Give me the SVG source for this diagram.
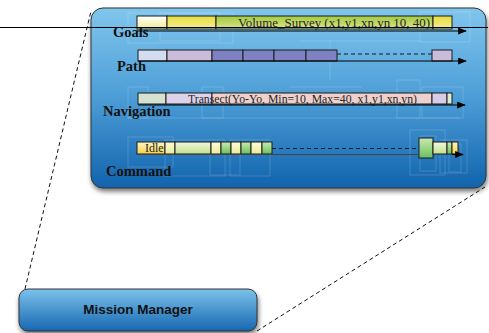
<svg xmlns="http://www.w3.org/2000/svg" width="489" height="333" viewBox="0 0 489 333">
  <defs>
    <linearGradient id="panelFill" x1="0" y1="0" x2="0" y2="1">
      <stop offset="0" stop-color="#80c6ee"/>
      <stop offset="0.5" stop-color="#4c9dd6"/>
      <stop offset="1" stop-color="#1163ad"/>
    </linearGradient>
    <linearGradient id="mmFill" x1="0" y1="0" x2="0" y2="1">
      <stop offset="0" stop-color="#7cc2ec"/>
      <stop offset="1" stop-color="#1667b0"/>
    </linearGradient>
    <linearGradient id="gWhiteYellow" x1="0" y1="0" x2="0" y2="1">
      <stop offset="0" stop-color="#ffffff"/>
      <stop offset="1" stop-color="#f0ec90"/>
    </linearGradient>
    <linearGradient id="gYellow" x1="0" y1="0" x2="0" y2="1">
      <stop offset="0" stop-color="#e6dc3c"/>
      <stop offset="1" stop-color="#f4ee98"/>
    </linearGradient>
    <linearGradient id="gVolume" x1="0" y1="0" x2="0" y2="1">
      <stop offset="0" stop-color="#a4ca3c"/>
      <stop offset="1" stop-color="#d8e48c"/>
    </linearGradient>
    <linearGradient id="gIdle" x1="0" y1="0" x2="0" y2="1">
      <stop offset="0" stop-color="#fff4c0"/>
      <stop offset="1" stop-color="#f6d24a"/>
    </linearGradient>
    <linearGradient id="gPale" x1="0" y1="0" x2="0" y2="1">
      <stop offset="0" stop-color="#fdfcd8"/>
      <stop offset="1" stop-color="#ecec98"/>
    </linearGradient>
    <linearGradient id="gLightGreen" x1="0" y1="0" x2="0" y2="1">
      <stop offset="0" stop-color="#f2f8dc"/>
      <stop offset="1" stop-color="#c4e090"/>
    </linearGradient>
    <linearGradient id="gGreen" x1="0" y1="0" x2="0" y2="1">
      <stop offset="0" stop-color="#c8eab0"/>
      <stop offset="1" stop-color="#6cc060"/>
    </linearGradient>
    <filter id="shadow" x="-5%" y="-5%" width="115%" height="125%">
      <feGaussianBlur in="SourceAlpha" stdDeviation="2.5"/>
      <feOffset dx="1" dy="3" result="b"/>
      <feComponentTransfer><feFuncA type="linear" slope="0.55"/></feComponentTransfer>
      <feMerge><feMergeNode/><feMergeNode in="SourceGraphic"/></feMerge>
    </filter>
    <marker id="arrow" viewBox="0 0 10 8" refX="9" refY="4" markerWidth="9" markerHeight="7" markerUnits="userSpaceOnUse" orient="auto">
      <path d="M0,0 L10,4 L0,8 Z" fill="#000"/>
    </marker>
  </defs>
  <style>
    .seg { stroke: #1a1a1a; stroke-width: 1; }
    .ghost { fill: none; stroke: #ffffff; stroke-opacity: 0.16; stroke-width: 1; }
    .label { font-family: "Liberation Serif", "Times New Roman", serif; font-weight: bold; font-size: 14.5px; fill: #111; }
    .bartext { font-family: "Liberation Serif", "Times New Roman", serif; font-size: 12px; fill: #262626; }
    .track { stroke: #000; stroke-width: 1.2; fill: none; marker-end: url(#arrow); }
    .dash { stroke: #1a1a1a; stroke-width: 1; stroke-dasharray: 4 3; fill: none; }
    .zoomline { stroke: #111; stroke-width: 1; stroke-dasharray: 4 3; fill: none; }
  </style>

  <!-- Mission timeline panel -->
  <g id="timeline-panel">
    <rect x="91" y="8" width="395" height="180" rx="12" fill="url(#panelFill)" stroke="#333" stroke-width="1" filter="url(#shadow)"/>
    <!-- faint layout guides -->
    <rect class="ghost" x="128" y="13" width="105" height="30"/>
    <rect class="ghost" x="160" y="13" width="60" height="28"/>
    <rect class="ghost" x="420" y="12" width="50" height="30"/>
    <line class="ghost" x1="300" y1="41" x2="420" y2="41"/>
    <line class="ghost" x1="330" y1="40" x2="330" y2="80"/>
    <rect class="ghost" x="128" y="87" width="20" height="31"/>
    <rect class="ghost" x="202" y="87" width="21" height="31"/>
    <line class="ghost" x1="128" y1="118" x2="460" y2="118"/>
    <line class="ghost" x1="290" y1="87" x2="362" y2="87"/>
    <rect class="ghost" x="397" y="80" width="23" height="38"/>
    <rect class="ghost" x="422" y="87" width="41" height="31"/>
    <rect class="ghost" x="128" y="137" width="45" height="30"/>
    <rect class="ghost" x="165" y="140" width="60" height="36"/>
    <rect class="ghost" x="210" y="145" width="30" height="30"/>
    <rect class="ghost" x="230" y="140" width="40" height="36"/>
    <rect class="ghost" x="410" y="130" width="35" height="45"/>
    <rect class="ghost" x="420" y="136" width="16" height="35"/>
    <rect class="ghost" x="440" y="140" width="27" height="33"/>
    <rect class="ghost" x="449" y="144" width="12" height="28"/>
  </g>

  <!-- Goals row -->
  <g id="goals">
    <rect class="seg" x="137" y="16" width="30" height="13" fill="url(#gWhiteYellow)"/>
    <rect class="seg" x="167" y="16" width="49" height="13" fill="url(#gYellow)"/>
    <rect class="seg" x="216" y="16" width="217" height="13" fill="url(#gVolume)"/>
    <rect class="seg" x="433" y="16" width="19" height="13" fill="url(#gYellow)"/>
    <text class="bartext" x="334" y="26.5" text-anchor="middle" textLength="192" lengthAdjust="spacingAndGlyphs">Volume_Survey (x1,y1,xn,yn 10, 40)</text>
    <text class="label" x="113" y="37">Goals</text>
  </g>

  <!-- Path row -->
  <g id="path">
    <rect class="seg" x="138" y="50" width="29" height="11" fill="#d2ddf0"/>
    <rect class="seg" x="167" y="50" width="45" height="11" fill="#cbbcdc"/>
    <rect class="seg" x="212" y="50" width="31" height="11" fill="#7f82c2"/>
    <rect class="seg" x="243" y="50" width="31" height="11" fill="#7f82c2"/>
    <rect class="seg" x="274" y="50" width="32" height="11" fill="#7f82c2"/>
    <rect class="seg" x="306" y="50" width="31" height="11" fill="#7f82c2"/>
    <rect class="seg" x="432" y="50" width="20" height="11" fill="#cbbcdc"/>
    <text class="label" x="117" y="71">Path</text>
  </g>

  <!-- Navigation row -->
  <g id="navigation">
    <rect class="seg" x="138" y="93" width="28" height="11" fill="#d6e2d0"/>
    <rect class="seg" x="166" y="93" width="46" height="11" fill="#dcd2ea"/>
    <rect class="seg" x="212" y="93" width="220" height="11" fill="#eed0cc"/>
    <rect class="seg" x="432" y="93" width="15" height="11" fill="#d6cce6"/>
    <rect class="seg" x="447" y="93" width="5" height="11" fill="#dcead0"/>
    <text class="bartext" x="188" y="102.5" textLength="229" lengthAdjust="spacingAndGlyphs">Transect(Yo-Yo, Min=10, Max=40, x1,y1,xn,yn)</text>
    <text class="label" x="103" y="116">Navigation</text>
  </g>

  <!-- Command row -->
  <g id="command">
    <rect class="seg" x="137" y="142" width="28" height="12" fill="url(#gIdle)"/>
    <rect class="seg" x="165" y="142" width="10" height="12" fill="url(#gPale)"/>
    <rect class="seg" x="175" y="142" width="36" height="12" fill="url(#gLightGreen)"/>
    <rect class="seg" x="211" y="142" width="10" height="12" fill="url(#gPale)"/>
    <rect class="seg" x="221" y="142" width="10" height="12" fill="url(#gGreen)"/>
    <rect class="seg" x="231" y="142" width="10" height="12" fill="url(#gPale)"/>
    <rect class="seg" x="241" y="142" width="10" height="12" fill="url(#gGreen)"/>
    <rect class="seg" x="251" y="142" width="11" height="12" fill="url(#gPale)"/>
    <rect class="seg" x="262" y="142" width="10" height="12" fill="url(#gGreen)"/>
    <rect class="seg" x="419" y="138" width="14" height="20" fill="url(#gGreen)"/>
    <rect class="seg" x="433" y="142" width="14" height="12" fill="url(#gLightGreen)"/>
    <rect class="seg" x="447" y="142" width="5" height="12" fill="url(#gGreen)"/>
    <rect class="seg" x="452" y="142" width="6" height="12" fill="url(#gIdle)"/>
    <text class="bartext" x="145" y="152">Idle</text>
    <text class="label" x="106" y="176">Command</text>
  </g>

  <!-- Mission Manager -->
  <g id="mission-manager">
    <rect x="19" y="289" width="238" height="42" rx="9" fill="url(#mmFill)" stroke="#333" stroke-width="1" filter="url(#shadow)"/>
    <text x="138" y="313.5" text-anchor="middle" font-family="'Liberation Sans', Arial, sans-serif" font-weight="bold" font-size="13.5" fill="#111">Mission Manager</text>
  </g>

  <!-- Connectors -->
  <g id="connectors">
    <path class="track" d="M137,31 H466"/>
    <path class="dash" d="M337,54 H432"/>
    <path class="track" d="M138,61 H466"/>
    <path class="track" d="M138,105 H465"/>
    <path class="dash" d="M272,148.5 H419"/>
    <path d="M137,154.5 H419" stroke="#444" stroke-width="1.2" fill="none"/>
    <path class="track" d="M452,154.5 H463"/>
    <path d="M0,27.5 H488" stroke="#000" stroke-width="1.2" fill="none"/>
    <path class="zoomline" d="M25,289 L91,11"/>
    <path class="zoomline" d="M257,331 L485,187"/>
  </g>
</svg>
